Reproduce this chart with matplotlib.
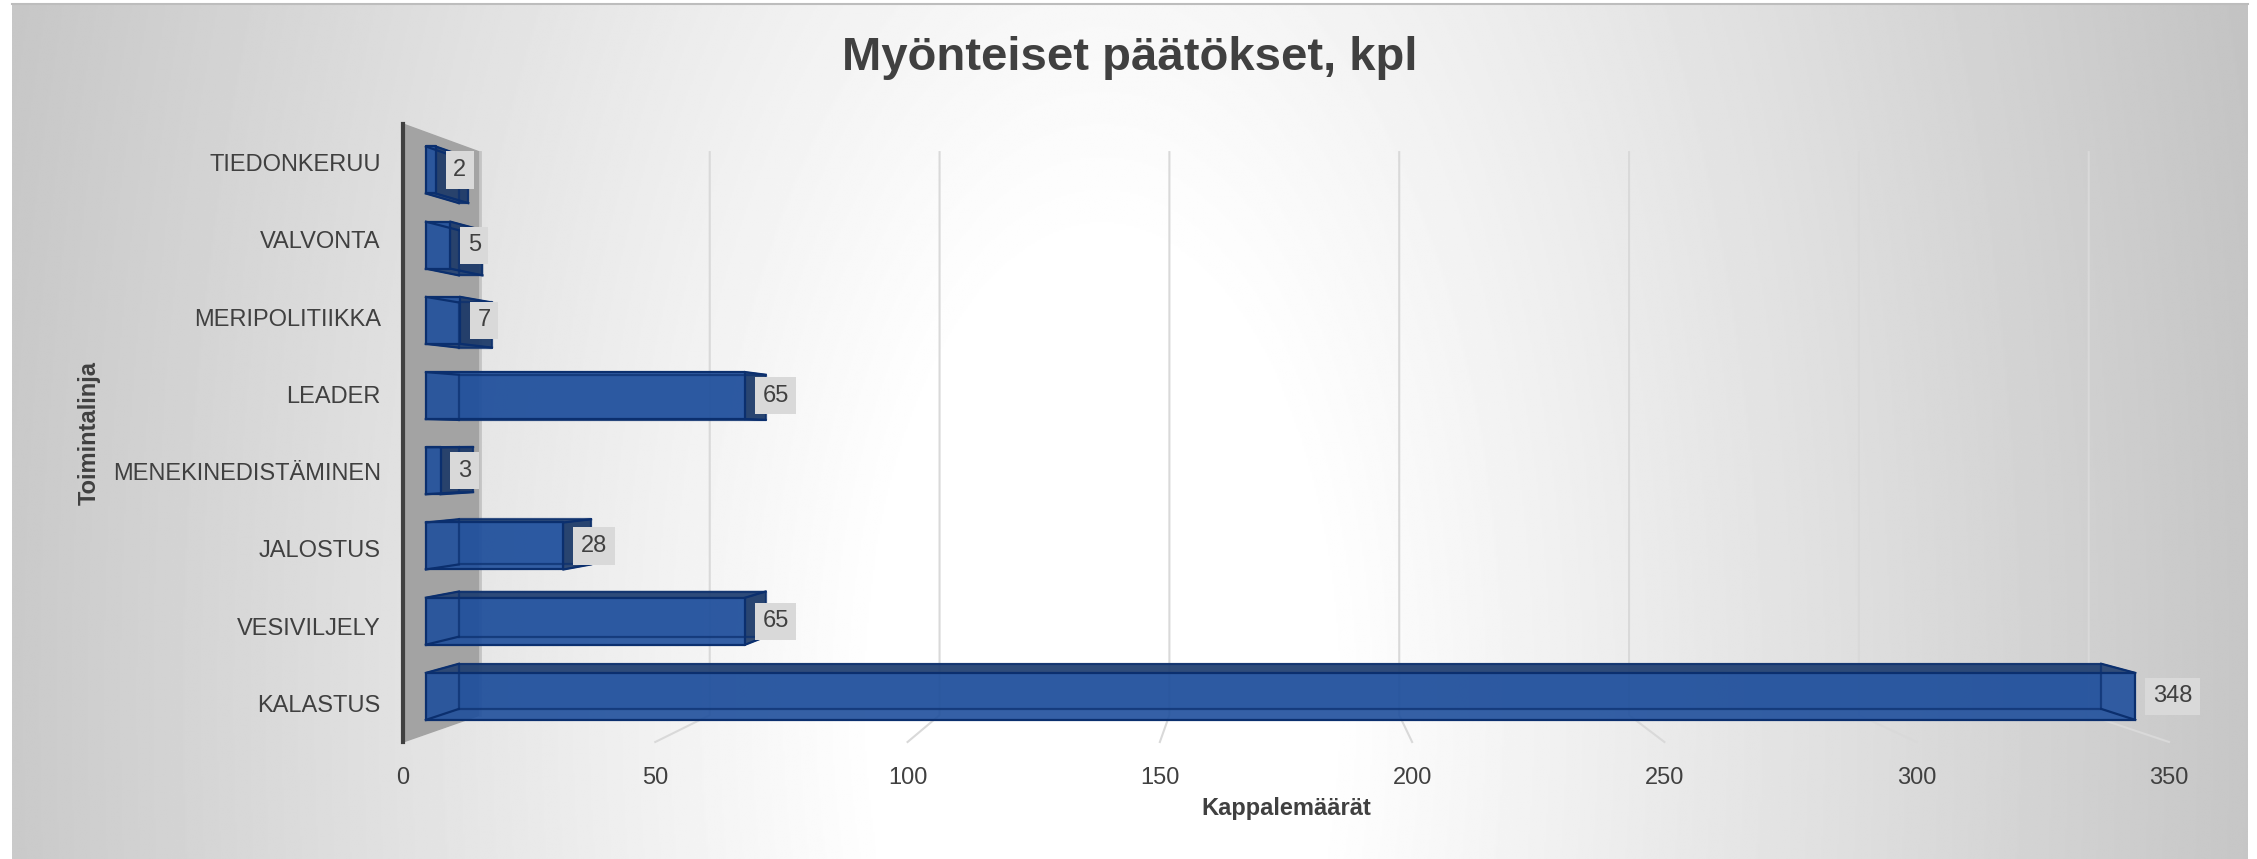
import numpy as np
import matplotlib.pyplot as plt

plt.rcParams['font.family'] = ['Liberation Sans', 'DejaVu Sans']

# data (bottom -> top)
categories = ['KALASTUS', 'VESIVILJELY', 'JALOSTUS', 'MENEKINEDISTÄMINEN',
              'LEADER', 'MERIPOLITIIKKA', 'VALVONTA', 'TIEDONKERUU']
values = [348, 65, 28, 3, 65, 7, 5, 2]
xticks = [0, 50, 100, 150, 200, 250, 300, 350]

title = 'Myönteiset päätökset, kpl'
xlabel = 'Kappalemäärät'
ylabel = 'Toimintalinja'

W, H = 2257, 859
fig = plt.figure(figsize=(W / 100, H / 100), dpi=100)

# ---- background with radial gradient
bg = fig.add_axes([0, 0, 1, 1])
bg.set_xlim(0, W)
bg.set_ylim(H, 0)
bg.axis('off')
yy, xx = np.mgrid[0:H:2, 0:W:2]
d = np.sqrt(((xx - 1100) / 1250.0) ** 2 + ((yy - 700) / 2500.0) ** 2)
t = np.clip((d - 0.18) / 0.8, 0, 1)
g = 1 - t * (255 - 194) / 255.0
bg.imshow(g, cmap='gray', vmin=0, vmax=1, extent=[12, 2248, H, 4],
          interpolation='bilinear', aspect='auto', zorder=0)
bg.plot([12, 2248], [4, 4], color='#bdbdbd', lw=1.5, zorder=1)

# ---- main axes = front floor plane
x0p, x1p = 403, 2169
ytop, ybot = 124, 742
ax = fig.add_axes([x0p / W, 1 - ybot / H, (x1p - x0p) / W, (ybot - ytop) / H])
ax.set_xlim(0, 350)
ax.set_ylim(-0.5, len(categories) - 0.5)
ax.patch.set_alpha(0)
for s in ['top', 'right', 'bottom']:
    ax.spines[s].set_visible(False)
ax.spines['left'].set_color('#404040')
ax.spines['left'].set_linewidth(3)
ax.spines['left'].set_zorder(6)

# perspective helper
VX = (1267 - x0p) / ((x1p - x0p) / 350.0)
VY = -0.5 + (ybot - 440) / ((ybot - ytop) / len(categories))
F_WALL = 0.911
F_FRONT = 0.9735
F_BACK = 0.9353
HALF = 0.3125


def proj(v, c, f):
    return VX + f * (v - VX), VY + f * (c - VY)


top_c = len(categories) - 0.5
# side wall
wall = [proj(0, -0.5, 1.0), proj(0, top_c, 1.0), proj(0, top_c, F_WALL), proj(0, -0.5, F_WALL)]
ax.fill([p[0] for p in wall], [p[1] for p in wall], color='#a3a3a3', zorder=1, clip_on=False)
a, b = proj(0, top_c, F_WALL), proj(0, -0.5, F_WALL)
ax.plot([a[0], b[0]], [a[1], b[1]], color='#c4c4c4', lw=2, zorder=1)

# gridlines on back wall + floor
for v in xticks[1:]:
    p1, p2, p3 = proj(v, top_c, F_WALL), proj(v, -0.5, F_WALL), proj(v, -0.5, 1.0)
    ax.plot([p1[0], p2[0], p3[0]], [p1[1], p2[1], p3[1]], color='#d9d9d9', lw=1.5,
            zorder=2, clip_on=False)

# bars
face = '#1f4f9c'
edge = '#0b2f6e'
for i, v in enumerate(values):
    lo, hi = i - HALF, i + HALF
    fl, fb = proj(0, lo, F_FRONT), proj(v, hi, F_FRONT)
    bl, bb = proj(0, lo, F_BACK), proj(v, hi, F_BACK)
    # back face
    ax.barh(bl[1], bb[0] - bl[0], height=bb[1] - bl[1], left=bl[0], align='edge',
            color=face, alpha=0.35, zorder=3)
    # top or bottom face
    yc = hi if i < VY else lo
    poly = [proj(0, yc, F_FRONT), proj(v, yc, F_FRONT), proj(v, yc, F_BACK), proj(0, yc, F_BACK)]
    ax.fill([p[0] for p in poly], [p[1] for p in poly], color='#213f70', alpha=0.9, zorder=4)
    # right end face if visible
    if v < VX:
        poly = [proj(v, lo, F_FRONT), proj(v, hi, F_FRONT), proj(v, hi, F_BACK), proj(v, lo, F_BACK)]
        ax.fill([p[0] for p in poly], [p[1] for p in poly], color='#1b3866', alpha=0.9, zorder=4)
    # front face
    ax.barh(fl[1], fb[0] - fl[0], height=fb[1] - fl[1], left=fl[0], align='edge',
            color=face, alpha=0.9, zorder=5)
    # wireframe
    for vv in (0, v):
        for cc in (lo, hi):
            p, q = proj(vv, cc, F_FRONT), proj(vv, cc, F_BACK)
            ax.plot([p[0], q[0]], [p[1], q[1]], color=edge, lw=1.6, zorder=5.5)
    for f in (F_FRONT, F_BACK):
        pts = [proj(0, lo, f), proj(v, lo, f), proj(v, hi, f), proj(0, hi, f), proj(0, lo, f)]
        ax.plot([p[0] for p in pts], [p[1] for p in pts], color=edge, lw=1.6,
                alpha=1.0 if f == F_FRONT else 0.7, zorder=5.5)
    # data label
    lx, ly = proj(v, i, F_FRONT)
    ax.annotate(str(v), (lx, ly), xytext=(12.5, 0), textcoords='offset points',
                ha='left', va='center', fontsize=17, color='#404040', zorder=10,
                bbox=dict(boxstyle='square,pad=0.32', fc='#d9d9d9', ec='none'))

# ticks
ax.set_xticks(xticks)
ax.set_xticklabels([str(v) for v in xticks])
ax.set_yticks(range(len(categories)))
ax.set_yticklabels(categories)
ax.tick_params(axis='x', length=0, pad=18, labelsize=17, labelcolor='#404040')
ax.tick_params(axis='y', length=0, pad=16, labelsize=17, labelcolor='#404040')

# titles
fig.text(1130 / W, 1 - 58 / H, title, ha='center', va='center', fontsize=34,
         fontweight='bold', color='#404040')
fig.text(1286 / W, 1 - 809 / H, xlabel, ha='center', va='center', fontsize=17,
         fontweight='bold', color='#404040')
fig.text(89 / W, 1 - 433 / H, ylabel, ha='center', va='center', fontsize=17,
         fontweight='bold', color='#404040', rotation=90)

fig.savefig('out.png', dpi=100, facecolor='white')
